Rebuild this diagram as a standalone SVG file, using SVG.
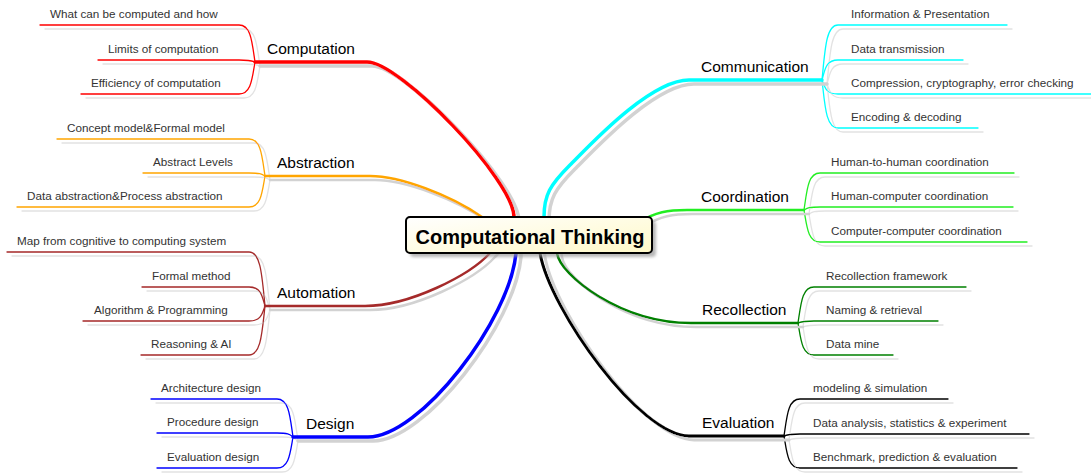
<svg xmlns="http://www.w3.org/2000/svg" width="1091" height="473" viewBox="0 0 1091 473">
<defs>
<style>
.main{fill:none;stroke-linecap:round;stroke-linejoin:round}
.sub{fill:none;stroke-width:1.3;stroke-linecap:round}
.lbl{font-family:"Liberation Sans",Arial,sans-serif;font-size:15.5px;fill:#000}
.st{font-family:"Liberation Sans",Arial,sans-serif;font-size:11.7px;fill:#333}
.ctr{font-family:"Liberation Sans",Arial,sans-serif;font-size:20px;font-weight:bold;fill:#000}
.red{stroke:#ff0000}.ora{stroke:#ffa500}.brn{stroke:#a52a2a}.blu{stroke:#0000ff}
.cya{stroke:#00ffff}.lim{stroke:#22ee22}.grn{stroke:#008000}.blk{stroke:#000}
</style>
<filter id="shMain" filterUnits="userSpaceOnUse" x="0" y="0" width="1091" height="473">
<feOffset in="SourceAlpha" dx="5" dy="4" result="o"/>
<feFlood flood-color="#d2d2d2"/>
<feComposite in2="o" operator="in" result="s"/>
<feMerge><feMergeNode in="s"/><feMergeNode in="SourceGraphic"/></feMerge>
</filter>
<filter id="shSub" filterUnits="userSpaceOnUse" x="0" y="0" width="1091" height="473">
<feOffset in="SourceAlpha" dx="5" dy="4" result="o"/>
<feFlood flood-color="#e2e2e2"/>
<feComposite in2="o" operator="in" result="s"/>
<feMerge><feMergeNode in="s"/><feMergeNode in="SourceGraphic"/></feMerge>
</filter>
<filter id="shBox" x="-10%" y="-30%" width="130%" height="180%">
<feGaussianBlur in="SourceAlpha" stdDeviation="1.5"/>
<feOffset dx="4" dy="4" result="b"/>
<feFlood flood-color="#999" flood-opacity="0.7"/>
<feComposite in2="b" operator="in"/>
</filter>
<linearGradient id="boxg" x1="0" y1="0" x2="1" y2="1">
<stop offset="0" stop-color="#ffffff"/>
<stop offset="1" stop-color="#fff9c8"/>
</linearGradient>
</defs>
<rect width="1091" height="473" fill="#fff"/>

<g id="connectors">
<g id="sub-links" class="sub" filter="url(#shSub)">
<path class="red" d="M255,62 C252,41.6 251,25 239,25 H40"/>
<path class="red" d="M255,62 C252,60.9 251,60 239,60 H98"/>
<path class="red" d="M255,62 C252,79.6 251,94 239,94 H81"/>
<path class="ora" d="M265,176 C262,155.6 261,139 249,139 H57"/>
<path class="ora" d="M265,176 C262,174.3 261,173 249,173 H143"/>
<path class="ora" d="M265,176 C262,193 261,207 249,207 H17"/>
<path class="brn" d="M265,306 C262,276.3 261,252 249,252 H7"/>
<path class="brn" d="M265,306 C262,295.5 261,287 249,287 H142"/>
<path class="brn" d="M265,306 C262,314.2 261,321 249,321 H83"/>
<path class="brn" d="M265,306 C262,333 261,355 249,355 H141"/>
<path class="blu" d="M293,437 C290,416.1 289,399 277,399 H151"/>
<path class="blu" d="M293,437 C290,434.8 289,433 277,433 H157"/>
<path class="blu" d="M293,437 C290,454 289,468 277,468 H157"/>
<path class="cya" d="M822,80 C825,49.8 826,25 838,25 H1007"/>
<path class="cya" d="M822,80 C825,69 826,60 838,60 H963"/>
<path class="cya" d="M822,80 C825,87.7 826,94 838,94 H1091"/>
<path class="cya" d="M822,80 C825,106.4 826,128 838,128 H978"/>
<path class="lim" d="M804,210 C807,189.6 808,173 820,173 H1014"/>
<path class="lim" d="M804,210 C807,208.3 808,207 820,207 H1013"/>
<path class="lim" d="M804,210 C807,227.6 808,242 820,242 H1027"/>
<path class="grn" d="M798,323 C801,303.2 802,287 814,287 H966"/>
<path class="grn" d="M798,323 C801,321.9 802,321 814,321 H938"/>
<path class="grn" d="M798,323 C801,340.6 802,355 814,355 H893"/>
<path class="blk" d="M784,436 C787,415.6 788,399 800,399 H948"/>
<path class="blk" d="M784,436 C787,434.9 788,434 800,434 H1029"/>
<path class="blk" d="M784,436 C787,453.6 788,468 800,468 H1017"/>
</g>
<g id="main-links" class="main" filter="url(#shMain)">
<path class="red" stroke-width="3.5" d="M255,62 H367 C400,62 514,180 514,217 L514,226"/>
<path class="ora" stroke-width="2.5" d="M265,176 H370 C400,176 450,195 482,217 L490,223"/>
<path class="brn" stroke-width="2.5" d="M265,306 H365 C410,306 470,275 490,253 L496,247"/>
<path class="blu" stroke-width="3.5" d="M293,437 H368 C420,437 510,320 516,253 L516,246"/>
<path class="cya" stroke-width="3.5" d="M822,80 H689 C650,80 590,145 570,165 C550,185 544,195 544,217 L544,226"/>
<path class="lim" stroke-width="2.5" d="M804,210 H687 C668,210 655,212 640,222"/>
<path class="grn" stroke-width="2.5" d="M798,323 H691 C620,323 560,275 557,253 L556,246"/>
<path class="blk" stroke-width="3" d="M784,436 H689 C640,436 550,310 540,253 L539,246"/>
</g>
</g>

<g id="node-center">
<rect x="406" y="217" width="246" height="36" rx="4" fill="#000" filter="url(#shBox)"/>
<rect x="406" y="217" width="246" height="36" rx="4" fill="url(#boxg)" stroke="#000" stroke-width="2"/>
<text class="ctr" x="530" y="243.5" text-anchor="middle">Computational Thinking</text>
</g>

<g id="node-computation">
<text class="lbl" x="267" y="54">Computation</text>
<text class="st" x="50" y="18">What can be computed and how</text>
<text class="st" x="108" y="53">Limits of computation</text>
<text class="st" x="91" y="87">Efficiency of computation</text>
</g>
<g id="node-abstraction">
<text class="lbl" x="277" y="168">Abstraction</text>
<text class="st" x="67" y="132">Concept model&amp;Formal model</text>
<text class="st" x="153" y="166">Abstract Levels</text>
<text class="st" x="27" y="200">Data abstraction&amp;Process abstraction</text>
</g>
<g id="node-automation">
<text class="lbl" x="277" y="298">Automation</text>
<text class="st" x="17" y="245">Map from cognitive to computing system</text>
<text class="st" x="152" y="280">Formal method</text>
<text class="st" x="94" y="314">Algorithm &amp; Programming</text>
<text class="st" x="151" y="348">Reasoning &amp; AI</text>
</g>
<g id="node-design">
<text class="lbl" x="306" y="429">Design</text>
<text class="st" x="161" y="392">Architecture design</text>
<text class="st" x="167" y="426">Procedure design</text>
<text class="st" x="167" y="461">Evaluation design</text>
</g>
<g id="node-communication">
<text class="lbl" x="701" y="72">Communication</text>
<text class="st" x="851" y="18">Information &amp; Presentation</text>
<text class="st" x="851" y="53">Data transmission</text>
<text class="st" x="851" y="87">Compression, cryptography, error checking</text>
<text class="st" x="851" y="121">Encoding &amp; decoding</text>
</g>
<g id="node-coordination">
<text class="lbl" x="701" y="202">Coordination</text>
<text class="st" x="831" y="166">Human-to-human coordination</text>
<text class="st" x="831" y="200">Human-computer coordination</text>
<text class="st" x="831" y="235">Computer-computer coordination</text>
</g>
<g id="node-recollection">
<text class="lbl" x="702" y="315">Recollection</text>
<text class="st" x="826" y="280">Recollection framework</text>
<text class="st" x="826" y="314">Naming &amp; retrieval</text>
<text class="st" x="826" y="348">Data mine</text>
</g>
<g id="node-evaluation">
<text class="lbl" x="702" y="428">Evaluation</text>
<text class="st" x="813" y="392">modeling &amp; simulation</text>
<text class="st" x="813" y="427">Data analysis, statistics &amp; experiment</text>
<text class="st" x="813" y="461">Benchmark, prediction &amp; evaluation</text>
</g>
</svg>
